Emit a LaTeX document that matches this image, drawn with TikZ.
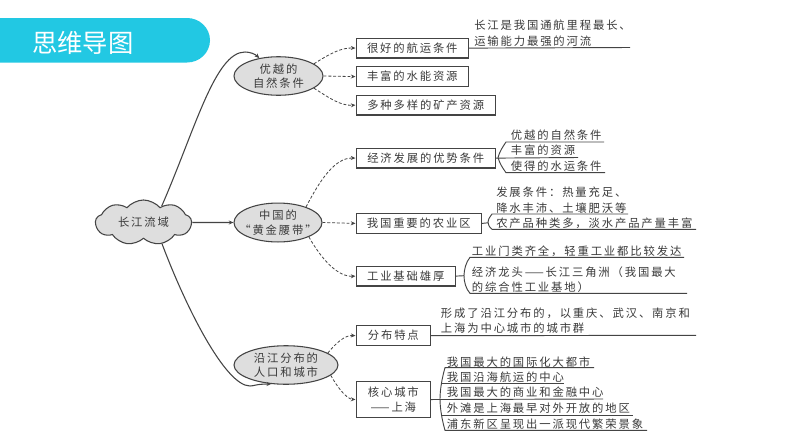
\documentclass[tikz,border=0pt]{standalone}
\usepackage{fontspec}
\usetikzlibrary{shapes.geometric,shapes.symbols,arrows.meta}
\newfontfamily\cjk[LetterSpace=16.5,Kerning=Off]{Noto Sans CJK SC}
\newfontfamily\cjktitle{Noto Sans CJK SC}
\definecolor{band}{HTML}{22C8E3}
\definecolor{ink}{HTML}{3A3A3A}
\definecolor{lin}{HTML}{444444}
\definecolor{shade}{HTML}{DEDEDE}
\tikzset{
  base/.style={font=\cjk\fontsize{8.5pt}{10.8pt}\selectfont,text=ink},
  txt/.style={base,anchor=west,inner sep=0pt},
  boxn/.style={base,draw=lin,line width=0.8pt,fill=white,inner sep=0pt,align=center,anchor=north west},
  oval/.style={base,draw=lin,line width=0.8pt,fill=shade,ellipse,inner xsep=-16pt,inner ysep=-8pt,align=center},
  solidc/.style={draw=lin,line width=0.8pt,-{Stealth[length=3.5pt,width=3pt]}},
  dashc/.style={draw=lin,line width=0.6pt,dashed,dash pattern=on 2.2pt off 1.4pt,-{Stealth[length=3.5pt,width=3pt]}},
  rulel/.style={draw=lin,line width=0.7pt}
}
\begin{document}
\begin{tikzpicture}[x=0.75pt,y=-0.75pt]
\useasboundingbox (0,0) rectangle (794,447);
\fill[white] (0,0) rectangle (794,447);
% title band
\fill[band] (0,18) -- (187,18) arc[start angle=-90,end angle=90,x radius=23,y radius=22.25] -- (0,62.5) -- cycle;
\node[text=white,inner sep=0pt,anchor=west,font=\cjktitle\fontsize{19pt}{19pt}\selectfont] (title) at (32,43) {思维导图};
% central and branch nodes
\node[base,cloud,cloud puffs=9,cloud puff arc=100,aspect=2.1,draw=lin,line width=0.8pt,fill=shade,inner sep=0pt,minimum width=72pt,minimum height=33.75pt] (root) at (143.5,222.5) {长江流域};
\node[oval,minimum width=66.75pt,minimum height=28.9pt] (e1) at (278.5,76) {优越的\\自然条件};
\node[oval,minimum width=66pt,minimum height=29.2pt] (e2) at (278,222.5) {中国的\\“黄金腰带”};
\node[oval,minimum width=78pt,minimum height=28.9pt] (e3) at (286,365) {沿江分布的\\人口和城市};
% boxes
\node[boxn,minimum width=84.4pt,minimum height=14.8pt] (b1) at (355.5,37.7) {很好的航运条件};
\node[boxn,minimum width=84.4pt,minimum height=14.8pt] (b2) at (355.5,66.2) {丰富的水能资源};
\node[boxn,minimum width=104.6pt,minimum height=14.8pt] (b3) at (355.5,94.7) {多种多样的矿产资源};
\node[boxn,minimum width=104.6pt,minimum height=14.8pt] (b4) at (355.5,147.7) {经济发展的优势条件};
\node[boxn,minimum width=94.1pt,minimum height=14.8pt] (b5) at (355.5,213) {我国重要的农业区};
\node[boxn,minimum width=74.6pt,minimum height=14.8pt] (b6) at (355.5,265.7) {工业基础雄厚};
\node[boxn,minimum width=56pt,minimum height=14.8pt] (b7) at (355.5,325.3) {分布特点};
\node[boxn,minimum width=56pt,minimum height=27pt] (b8) at (355.5,381) {核心城市\\——上海};
% solid connectors
\draw[solidc] (root.42) .. controls (195,130) and (215,52) .. (245,52) .. controls (250,52) and (255,54) .. (e1.137);
\draw[solidc] (root.east) -- (e2.west);
\draw[solidc] (root.-49) .. controls (185,305) and (225,386) .. (250,386) .. controls (254,386) and (256,384) .. (e3.-128);
% dashed connectors
\draw[dashc] (e1.19) .. controls (328,55) and (340,47.5) .. (b1.west);
\draw[dashc] (e1.east) -- (b2.west);
\draw[dashc] (e1.-19) .. controls (328,97) and (340,106) .. (b3.west);
\draw[dashc] (e2.29) .. controls (320,180) and (335,157.5) .. (b4.west);
\draw[dashc] (e2.east) -- (b5.west);
\draw[dashc] (e2.-25) .. controls (322,260) and (338,277) .. (b6.west);
\draw[dashc] (e3.16) .. controls (336,343) and (345,335) .. (b7.west);
\draw[dashc] (e3.-13) .. controls (336,385) and (346,399) .. (b8.west);
% rules and brackets
\draw[rulel] (b1.east) -- (630,47.5);
\draw[rulel] (b4.east) -- (578,157.5);
\draw[rulel] (604,142) -- (506,142) .. controls (502,148) and (500,151) .. (498,157.5) .. controls (500,164) and (502,167) .. (506,172.7) -- (605,172.7);
\draw[rulel] (b5.east) -- (488,222.8);
\draw[rulel] (628,214) -- (492,214) .. controls (489,218) and (488,220) .. (488,222) .. controls (488,224) and (489,227) .. (492,229.3) -- (696,229.3);
\draw[rulel] (b6.east) -- (464,275.7);
\draw[rulel] (684,257.3) -- (470,257.3) .. controls (466,262) and (464,270) .. (464,275.7) .. controls (464,282) and (466,289) .. (470,293.3) -- (687,293.3);
\draw[rulel] (b7.east) -- (696,335.3);
\draw[rulel] (b8.east) -- (603,399);
\draw[rulel] (594,367.7) -- (445,367.7) .. controls (442,378) and (440,390) .. (440,399) .. controls (440,408) and (442,420) .. (445,430.3) -- (647,430.3);
\draw[rulel] (442,383.7) -- (564,383.7);
\draw[rulel] (442,415) -- (633,415);
% leaf texts
\node[txt] (t1) at (474,25) {长江是我国通航里程最长、};
\node[txt] (t2) at (474,41) {运输能力最强的河流};
\node[txt] (t3) at (510.7,135) {优越的自然条件};
\node[txt] (t4) at (510.7,150) {丰富的资源};
\node[txt] (t5) at (510.7,166) {使得的水运条件};
\node[txt] (t6) at (496,191.7) {发展条件^^^^ff1a热量充足、};
\node[txt] (t7) at (496,208) {降水丰沛、土壤肥沃等};
\node[txt] (t8) at (496,223) {农产品种类多^^^^ff0c淡水产品产量丰富};
\node[txt] (t9) at (471.7,251) {工业门类齐全^^^^ff0c轻重工业都比较发达};
\node[txt] (t10) at (471.7,272) {经济龙头——长江三角洲^^^^ff08我国最大};
\node[txt] (t11) at (471.7,287) {的综合性工业基地^^^^ff09};
\node[txt] (t12) at (440.7,313) {形成了沿江分布的^^^^ff0c以重庆、武汉、南京和};
\node[txt] (t13) at (440.7,328) {上海为中心城市的城市群};
\node[txt] (t14) at (446.7,361.7) {我国最大的国际化大都市};
\node[txt] (t15) at (446.7,377) {我国沿海航运的中心};
\node[txt] (t16) at (446.7,392.5) {我国最大的商业和金融中心};
\node[txt] (t17) at (446.7,408) {外滩是上海最早对外开放的地区};
\node[txt] (t18) at (446.7,424) {浦东新区呈现出一派现代繁荣景象};
\end{tikzpicture}
\end{document}
